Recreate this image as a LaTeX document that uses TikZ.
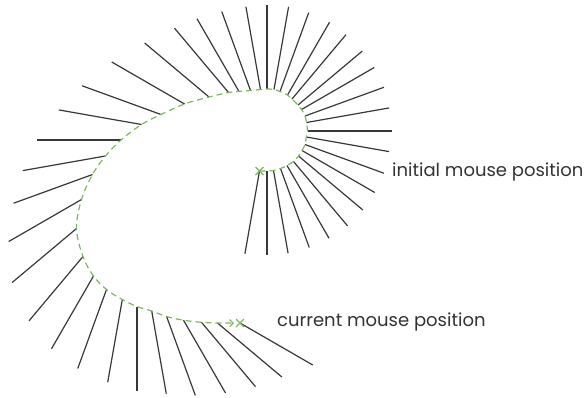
\documentclass[tikz,border=0pt]{standalone}
\usepackage{fontspec}
\setmainfont{Poppins}
\usetikzlibrary{arrows.meta,calc}
\definecolor{pathgreen}{HTML}{7DB760}
\definecolor{needle}{HTML}{383838}
\definecolor{labeltext}{HTML}{333333}
\tikzset{
  needleline/.style={draw=needle, line width=1.2pt},
  mousepath/.style={draw=pathgreen, line width=1.2pt, dash pattern=on 6pt off 4pt},
  crossmark/.style={draw=pathgreen, line width=1.2pt},
  labelnode/.style={anchor=west, inner sep=0pt, text=labeltext, font=\fontsize{18}{21}\selectfont}
}
\begin{document}
\begin{tikzpicture}[x=1pt,y=-1pt]
\useasboundingbox (0,0) rectangle (588,397);
% sample points of the mouse path: index/angle/x/y
\foreach \i/\a/\px/\py in {
 0/-100/259.5/171, 1/-90/267/171, 2/-80/273.5/170.5, 3/-70/280.5/168.5,
 4/-60/287/165.5, 5/-50/293.5/161.5, 6/-40/298.5/156, 7/-30/302/150.5,
 8/-20/305/144.5, 9/-10/306.3/137, 10/0/307.5/131, 11/10/306.5/122.5,
 12/20/305/116, 13/30/301.5/109.5, 14/40/298/105, 15/50/292/99,
 16/60/287.5/95, 17/70/280/91.5, 18/80/274/89.5, 19/90/267/89,
 20/100/260.5/89.5, 21/110/250.5/90.5, 22/120/239/91.5, 23/130/228.5/92.5,
 24/140/209/97, 25/150/184.5/104, 26/160/161/114.5, 27/170/141.5/124.5,
 28/180/121/140, 29/190/105.5/156, 30/200/92.5/174.5, 31/210/81.5/199.5,
 32/220/76.5/228.5, 33/230/83/256.5, 34/240/93.5/276, 35/250/106.5/289.5,
 36/260/122.3/299.5, 37/270/137/306.5, 38/280/151.7/311, 39/290/166.6/316.5,
 40/300/183.5/320.2, 41/310/201.5/322.3, 42/320/217.5/323, 43/330/240/323}
{
  \coordinate (p\i) at (\px,\py);
  \draw[needleline] (p\i) -- ++({84*cos(\a)},{-84*sin(\a)});
}
\coordinate (pathend) at (234,323);
\draw[mousepath, -{Straight Barb[length=3.5pt,width=7pt,line width=1.1pt]}]
  plot[smooth, tension=0.6] coordinates {
  (259.5,171) (267,171) (273.5,170.5) (280.5,168.5) (287,165.5) (293.5,161.5)
  (298.5,156) (302,150.5) (305,144.5) (306.3,137) (307.5,131) (306.5,122.5)
  (305,116) (301.5,109.5) (298,105) (292,99) (287.5,95) (280,91.5) (274,89.5)
  (267,89) (260.5,89.5) (250.5,90.5) (239,91.5) (228.5,92.5) (209,97)
  (184.5,104) (161,114.5) (141.5,124.5) (121,140) (105.5,156) (92.5,174.5)
  (81.5,199.5) (76.5,228.5) (83,256.5) (93.5,276) (106.5,289.5) (122.3,299.5)
  (137,306.5) (151.7,311) (166.6,316.5) (183.5,320.2) (201.5,322.3) (217.5,323)
  (234,323)};
% cross marks
\draw[crossmark] ($(p0)+(-4,-4)$) -- ($(p0)+(4,4)$) ($(p0)+(-4,4)$) -- ($(p0)+(4,-4)$);
\draw[crossmark] ($(p43)+(-4,-4)$) -- ($(p43)+(4,4)$) ($(p43)+(-4,4)$) -- ($(p43)+(4,-4)$);
\node[labelnode] (initlabel) at (392,172) {initial mouse position};
\node[labelnode] (curlabel) at (277,322) {current mouse position};
\end{tikzpicture}
\end{document}
